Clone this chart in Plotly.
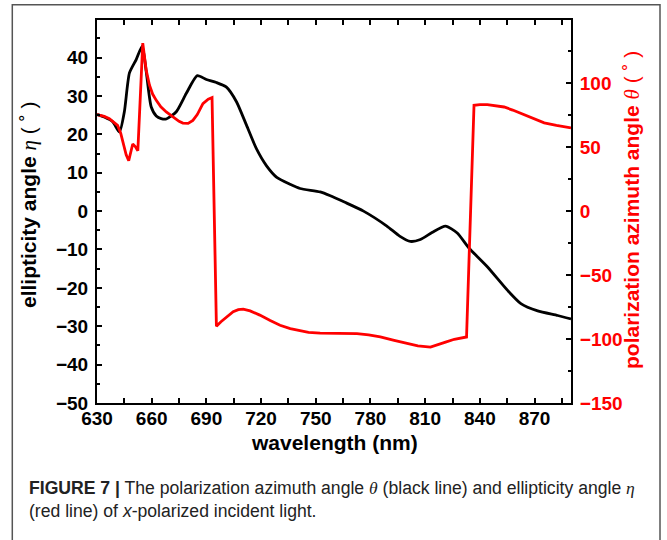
import plotly.graph_objects as go

# ---- data ----
black_wavelength = [630, 634, 638.6, 642.3, 645, 647.8, 651.5, 654.8, 657, 659.7, 662.5, 665.2,
                    668, 673.5, 679, 685, 690, 695.5, 701, 706.5, 712, 717.5, 723, 728.6,
                    735.9, 741.4, 752.4, 758, 766, 776.2, 789, 796, 801.9, 807.4, 814, 821.2,
                    827.6, 834, 844.1, 855.1, 862.5, 871.7, 882.7, 890]
black_ellipticity = [25.2, 24.5, 23.3, 20.6, 25.9, 36.0, 39.5, 43.0, 36.4, 27.2, 24.8, 24.1,
                     24.0, 25.9, 30.7, 35.3, 34.3, 33.5, 32.3, 28.5, 22.4, 16.2, 11.8, 8.8,
                     7.0, 5.9, 5.0, 4.0, 2.3, 0.0, -3.9, -6.5, -7.9, -7.4, -5.5, -3.9,
                     -5.7, -9.6, -14.5, -20.6, -24.1, -26.0, -27.2, -28.1]

red_wavelength = [630, 634, 636.8, 639, 641.3, 643, 644.1, 646, 647.4, 648.5, 649.6, 651, 652.4,
                  655.1, 657, 658.8, 660.5, 662.5, 665, 668, 672, 675, 677.1, 680, 682.6, 685,
                  688.1, 691, 693.1, 695.5, 698, 700, 702.5, 704.7, 707.5, 710.2, 714, 719.3,
                  725, 730.4, 736, 741.4, 746, 752.4, 762, 772.6, 779, 785.4, 793, 800.1,
                  806, 812.9, 817, 821.2, 826, 832.7, 836.8, 840, 844.1, 848, 853.3, 858,
                  864.3, 870, 875.3, 882, 890]
red_azimuth = [75.4, 74.0, 72.2, 70.0, 67.0, 61.0, 53.9, 44.0, 39.4, 46.0, 52.5, 50.5, 47.2,
               131.3, 110.0, 98.4, 91.5, 86.6, 81.5, 77.5, 73.0, 70.2, 68.8, 68.6, 70.9, 75.5,
               84.0, 87.5, 88.7, -90.0, -86.5, -84.0, -81.0, -78.7, -77.0, -76.6, -78.0, -81.3,
               -85.5, -89.2, -91.8, -93.7, -94.8, -95.3, -95.5, -95.8, -96.8, -98.4, -101.0, -103.6,
               -105.4, -106.3, -104.6, -102.4, -100.2, -98.4, 82.7, 83.2, 83.2, 82.6, 81.4, 79.0,
               75.4, 72.0, 69.0, 67.0, 65.1]

x_range = [630, 890]
left_range = [-50, 49.8]
right_range = [-150, 149.4]

W, H = 667, 540
L, R, T, B = 97, 96, 20, 137
PW, PH = W - L - R, H - T - B


def px(x):
    return (x - L) / PW


def py(y):
    return (H - B - y) / PH


FONT = "Liberation Sans, Arial, sans-serif"

fig = go.Figure()
fig.add_trace(go.Scatter(x=black_wavelength, y=black_ellipticity, mode="lines",
                         line=dict(color="black", width=2.8, shape="spline", smoothing=0.6),
                         yaxis="y", showlegend=False))
fig.add_trace(go.Scatter(x=red_wavelength, y=red_azimuth, mode="lines",
                         line=dict(color="#ff0000", width=2.8), yaxis="y2", showlegend=False))

axis_common = dict(showgrid=False, zeroline=False, showline=True, linecolor="black",
                   linewidth=2, ticks="inside", tickcolor="black", tickwidth=2, ticklen=5)

fig.update_layout(
    width=W, height=H,
    margin=dict(l=L, r=R, t=T, b=B, pad=0),
    paper_bgcolor="white", plot_bgcolor="white",
    font=dict(family=FONT, color="black"),
    xaxis=dict(range=x_range, tick0=630, dtick=30, mirror="allticks",
               tickfont=dict(family=FONT, size=19, weight="bold", color="black"),
               minor=dict(ticks="inside", dtick=15, ticklen=3, tickwidth=1.5, tickcolor="black"),
               ticklabelstandoff=-3,
               **axis_common),
    yaxis=dict(range=left_range, tick0=0, dtick=10,
               tickfont=dict(family=FONT, size=19, weight="bold", color="black"),
               minor=dict(ticks="inside", dtick=5, ticklen=3, tickwidth=1.5, tickcolor="black"),
               ticklabelstandoff=3,
               **axis_common),
    yaxis2=dict(range=right_range, tick0=0, dtick=50, overlaying="y", side="right",
                tickfont=dict(family=FONT, size=19, weight="bold", color="#ff0000"),
                minor=dict(ticks="inside", dtick=25, ticklen=3, tickwidth=1.5, tickcolor="black"),
                ticklabelstandoff=3,
                **axis_common),
)

ann = []
ann.append(dict(text="wavelength (nm)", x=px(334), y=py(442), xref="paper", yref="paper",
                xanchor="center", yanchor="middle", showarrow=False,
                font=dict(family=FONT, size=21, weight="bold", color="black")))
ann.append(dict(text="ellipticity angle <span style='font-family:Liberation Serif;font-weight:normal'><i>η</i></span> <span style='font-weight:normal'>( ˚ )</span>",
                x=px(29), y=py(205), xref="paper", yref="paper", textangle=-90,
                xanchor="center", yanchor="middle", showarrow=False,
                font=dict(family=FONT, size=21, weight="bold", color="black")))
ann.append(dict(text="polarization azimuth angle <span style='font-family:Liberation Serif;font-weight:normal'><i>θ</i></span> <span style='font-weight:normal'>( ˚ )</span>",
                x=px(632), y=py(210), xref="paper", yref="paper", textangle=-90,
                xanchor="center", yanchor="middle", showarrow=False,
                font=dict(family=FONT, size=21, weight="bold", color="#ff0000")))
ann.append(dict(text="<b>FIGURE 7 |</b> The polarization azimuth angle <span style='font-family:Liberation Serif'><i>θ</i></span> (black line) and ellipticity angle <span style='font-family:Liberation Serif'><i>η</i></span>",
                x=px(26.5), y=py(488), xref="paper", yref="paper",
                xanchor="left", yanchor="middle", showarrow=False,
                font=dict(family=FONT, size=17.6, color="#222222")))
ann.append(dict(text="(red line) of <i>x</i>-polarized incident light.",
                x=px(26.5), y=py(511), xref="paper", yref="paper",
                xanchor="left", yanchor="middle", showarrow=False,
                font=dict(family=FONT, size=17.6, color="#222222")))
fig.update_layout(annotations=ann)

fig.add_shape(type="rect", xref="paper", yref="paper",
              x0=px(12.3), x1=px(660), y0=py(560), y1=py(4.7),
              line=dict(color="#555555", width=1.5), fillcolor="rgba(0,0,0,0)", layer="below")

fig.write_html("out.html")
